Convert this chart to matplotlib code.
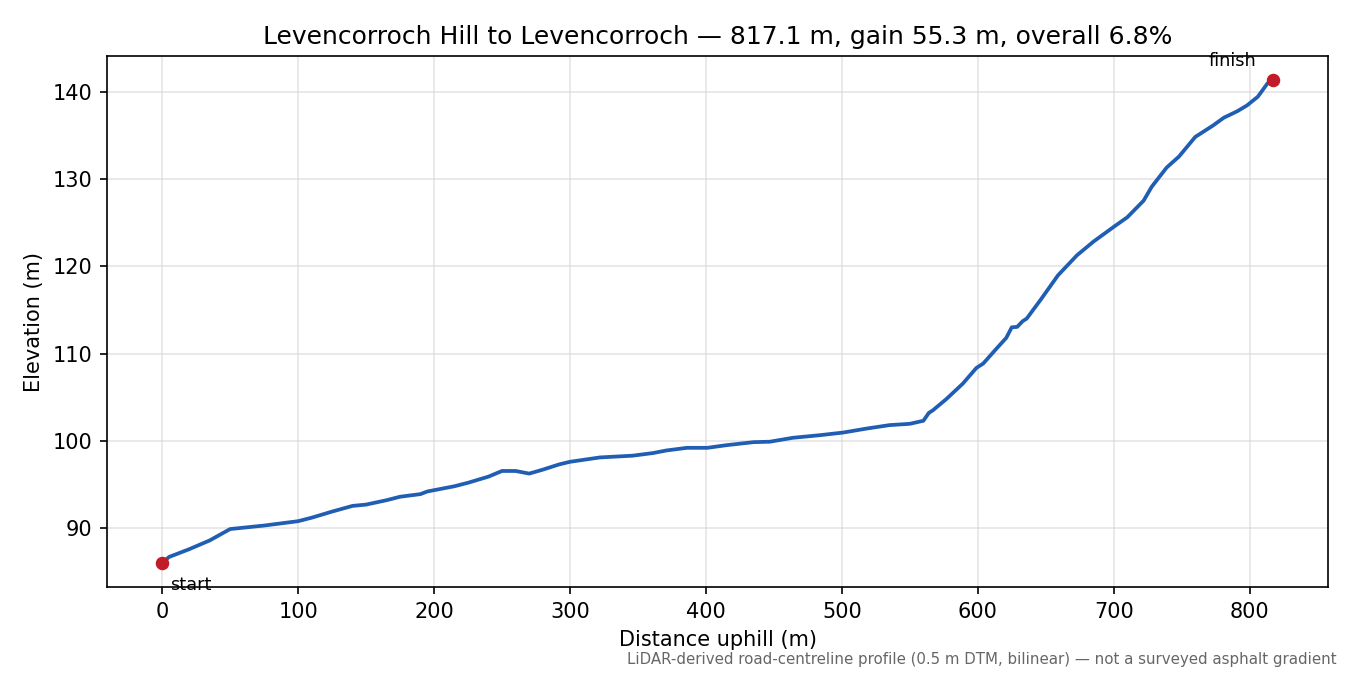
import matplotlib
matplotlib.use("Agg")
import matplotlib.pyplot as plt

# distance along road (m) and elevation (m)
dist = [0, 5, 20, 35, 50, 75, 100, 110, 125, 140, 150, 165, 175, 190, 195, 200,
        215, 225, 240, 250, 260, 270, 280, 292, 300, 322, 346, 361, 371, 386,
        401, 415, 435, 447, 464, 484, 501, 518, 535, 550, 560, 564, 567, 577,
        589, 599, 604, 614, 621, 625, 629, 633, 636, 646, 659, 673, 685, 700,
        710, 722, 728, 739, 748, 760, 773, 781, 791, 798, 806, 813, 817.1]
elev = [86.0, 86.7, 87.6, 88.6, 89.9, 90.3, 90.8, 91.2, 91.9, 92.55, 92.7, 93.2,
        93.6, 93.9, 94.2, 94.35, 94.8, 95.2, 95.9, 96.55, 96.55, 96.25, 96.7,
        97.3, 97.6, 98.1, 98.3, 98.6, 98.9, 99.2, 99.2, 99.5, 99.85, 99.9,
        100.35, 100.65, 100.95, 101.4, 101.8, 101.95, 102.3, 103.2, 103.5,
        104.8, 106.55, 108.35, 108.85, 110.6, 111.8, 113.0, 113.05, 113.7, 114.0,
        116.1, 118.95, 121.25, 122.8, 124.5, 125.6, 127.5, 129.1, 131.3, 132.55,
        134.8, 136.1, 137.0, 137.75, 138.4, 139.4, 140.9, 141.3]

title = "Levencorroch Hill to Levencorroch \u2014 817.1 m, gain 55.3 m, overall 6.8%"
note = "LiDAR-derived road-centreline profile (0.5 m DTM, bilinear) \u2014 not a surveyed asphalt gradient"

fig = plt.figure(figsize=(9, 4.5), dpi=150)
ax = fig.add_axes([0.079, 0.130, 0.905, 0.787])

ax.plot(dist, elev, color="#1f5eb3", lw=1.8, zorder=3)
ax.scatter([dist[0], dist[-1]], [elev[0], elev[-1]], color="#c21c2a", s=30, zorder=4)
ax.annotate("start", (dist[0], elev[0]), xytext=(4, -6), textcoords="offset points",
            ha="left", va="top", fontsize=8.5)
ax.annotate("finish", (dist[-1], elev[-1]), xytext=(-8, 5), textcoords="offset points",
            ha="right", va="bottom", fontsize=8.5)

ax.grid(True, color="#d5d5d5", alpha=0.6, lw=0.8)
ax.set_axisbelow(True)
ax.set_xlabel("Distance uphill (m)", fontsize=10)
ax.set_ylabel("Elevation (m)", fontsize=10)
ax.set_title(title, fontsize=12)
ax.tick_params(labelsize=10)

fig.text(0.99, 0.012, note, ha="right", va="bottom", fontsize=7.2, color="#666666")

fig.savefig("out.png", dpi=150)
